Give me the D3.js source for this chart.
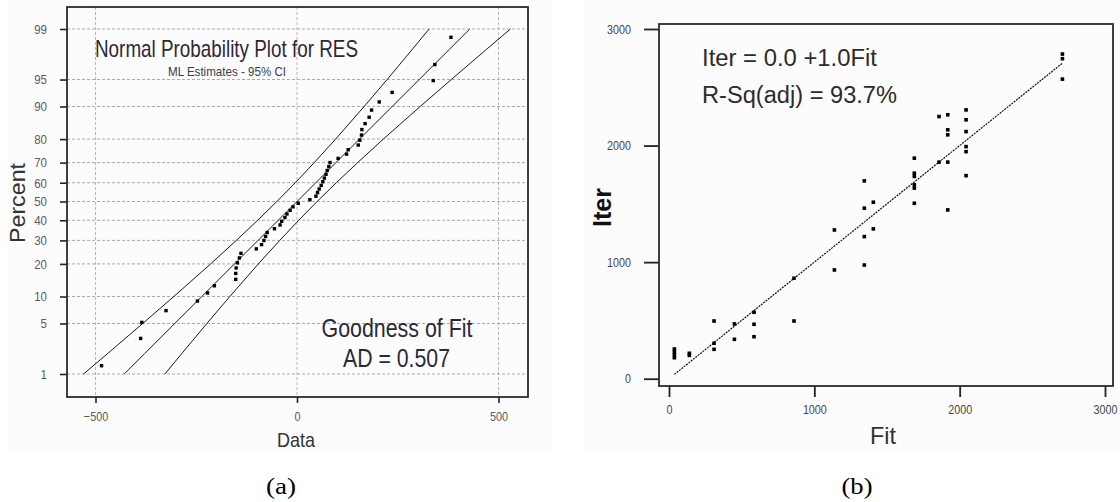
<!DOCTYPE html>
<html>
<head>
<meta charset="utf-8">
<script src="https://cdn.jsdelivr.net/npm/d3@7"></script>
<style>
  html, body { margin: 0; padding: 0; background: #fff; }
  svg { display: block; }
</style>
</head>
<body>
<svg id="fig" width="1120" height="502"></svg>
<script>
// ---------- Panel (a): normal probability plot of residuals ----------
// Sorted residuals and their plotted percent positions
const residuals = [-485, -388, -385, -325, -247, -222, -205, -152, -152, -151,
  -148, -143, -139, -101, -88, -82, -78, -74, -56, -42,
  -38, -30, -25, -17, -10, 3, 32, 47, 51, 55,
  60, 64, 68, 72, 75, 79, 82, 102, 123, 127,
  152, 156, 160, 161, 169, 179, 185, 204, 236, 338,
  342, 382];
const residualPercent = [1.34, 3.24, 5.15, 7.06, 8.97, 10.88, 12.79, 14.69, 16.60, 18.51,
  20.42, 22.33, 24.24, 26.15, 28.05, 29.96, 31.87, 33.78, 35.69, 37.60,
  39.50, 41.41, 43.32, 45.23, 47.14, 49.05, 50.95, 52.86, 54.77, 56.68,
  58.59, 60.50, 62.40, 64.31, 66.22, 68.13, 70.04, 71.95, 73.85, 75.76,
  77.67, 79.58, 81.49, 83.40, 85.31, 87.21, 89.12, 91.03, 92.94, 94.85,
  96.76, 98.66];

// Fitted distribution line and 95% confidence bounds
const bandPercent = [1, 2, 5, 10, 20, 30, 40, 50, 60, 70, 80, 90, 95, 98, 99];
const fitData   = [-428.7, -378.5, -303.2, -236.2, -155.1, -96.6, -46.7, 0, 46.7, 96.6, 155.1, 236.2, 303.2, 378.5, 428.7];
const upperBand = [-529.6, -470.6, -382.8, -305.7, -214.3, -150.4, -97.6, -50, -4.2, 42.8, 95.9, 166.7, 223.6, 286.4, 327.8];
const lowerBand = [-327.8, -286.4, -223.6, -166.7, -95.9, -42.8, 4.2, 50, 97.6, 150.4, 214.3, 305.7, 382.8, 470.6, 529.6];

const percentTicks = [1, 5, 10, 20, 30, 40, 50, 60, 70, 80, 90, 95, 99];
const dataTicks = [-500, 0, 500];

// ---------- Panel (b): observed vs fitted ----------
const fitValues = [37, 37, 37, 37, 140, 140, 310, 310, 310, 450, 450, 585, 585, 585,
  860, 860, 1138, 1138, 1344, 1344, 1344, 1344, 1406, 1406,
  1688, 1688, 1688, 1688, 1688, 1688, 1858, 1858,
  1918, 1918, 1918, 1918, 1918, 2044, 2044, 2044, 2044, 2044, 2044,
  2707, 2707, 2707];
const iterValues = [180, 205, 230, 255, 200, 218, 495, 304, 252, 470, 338, 570, 467, 360,
  862, 495, 933, 1276, 1697, 1463, 1219, 975, 1514, 1285,
  1892, 1763, 1735, 1663, 1635, 1505, 2249, 1858,
  2264, 2135, 2092, 1858, 1448, 2306, 2221, 2120, 1991, 1948, 1742,
  2785, 2745, 2570];
const regFit = [37, 2707];
const regIter = [37, 2707];
const fitTicks = [0, 1000, 2000, 3000];
const iterTicks = [0, 1000, 2000, 3000];

// Inverse standard normal CDF (Acklam's rational approximation)
function probit(p) {
  const a = [-3.969683028665376e+01, 2.209460984245205e+02, -2.759285104469687e+02, 1.383577518672690e+02, -3.066479806614716e+01, 2.506628277459239e+00];
  const b = [-5.447609879822406e+01, 1.615858368580409e+02, -1.556989798598866e+02, 6.680131188771972e+01, -1.328068155288572e+01];
  const c = [-7.784894002430293e-03, -3.223964580411365e-01, -2.400758277161838e+00, -2.549732539343734e+00, 4.374664141464968e+00, 2.938163982698783e+00];
  const d = [7.784695709041462e-03, 3.224671290700398e-01, 2.445134137142996e+00, 3.754408661907416e+00];
  const pl = 0.02425, ph = 1 - pl;
  let q, r;
  if (p < pl) {
    q = Math.sqrt(-2 * Math.log(p));
    return (((((c[0]*q+c[1])*q+c[2])*q+c[3])*q+c[4])*q+c[5]) / ((((d[0]*q+d[1])*q+d[2])*q+d[3])*q+1);
  }
  if (p > ph) {
    q = Math.sqrt(-2 * Math.log(1 - p));
    return -(((((c[0]*q+c[1])*q+c[2])*q+c[3])*q+c[4])*q+c[5]) / ((((d[0]*q+d[1])*q+d[2])*q+d[3])*q+1);
  }
  q = p - 0.5; r = q * q;
  return (((((a[0]*r+a[1])*r+a[2])*r+a[3])*r+a[4])*r+a[5])*q / (((((b[0]*r+b[1])*r+b[2])*r+b[3])*r+b[4])*r+1);
}

const SANS = '"Liberation Sans", Arial, Helvetica, sans-serif';
const SERIF = '"Liberation Serif", "Times New Roman", serif';
const svg = d3.select('#fig');

function txt(g, s, x, y, o) {
  const t = g.append('text').attr('x', x).attr('y', y).text(s)
    .attr('font-family', o.serif ? SERIF : SANS)
    .attr('font-size', o.size)
    .attr('fill', o.fill || '#2a2a2a')
    .attr('text-anchor', o.anchor || 'start');
  if (o.weight) t.attr('font-weight', o.weight);
  if (o.len) t.attr('textLength', o.len).attr('lengthAdjust', 'spacingAndGlyphs');
  if (o.rotate) t.attr('transform', `rotate(-90,${x},${y})`);
  return t;
}
// narrow the glyphs of axis tick labels
function squeeze(sel, k) {
  sel.each(function () {
    const w = this.getComputedTextLength();
    d3.select(this).attr('textLength', w * k).attr('lengthAdjust', 'spacingAndGlyphs');
  });
}

// light image backgrounds behind each panel
svg.append('rect').attr('x', 7).attr('y', 0).attr('width', 545).attr('height', 450).attr('fill', '#fcfcfc');
svg.append('rect').attr('x', 583).attr('y', 0).attr('width', 537).attr('height', 453).attr('fill', '#fcfcfc');

// =================== Panel (a) ===================
{
  const L = 67, T = 7, R = 528, B = 397;
  const g = svg.append('g');
  const x = d3.scaleLinear().domain([-500, 500]).range([95.5, 498.5]);
  const z = d3.scaleLinear().domain([probit(0.01), probit(0.99)]).range([374, 29]);
  const y = p => z(probit(p / 100));

  // dotted grid
  g.append('g').selectAll('line').data(percentTicks).join('line')
    .attr('x1', L).attr('x2', R).attr('y1', d => y(d)).attr('y2', d => y(d))
    .attr('stroke', '#a9a9a9').attr('stroke-width', 1).attr('stroke-dasharray', '3,2');
  g.append('g').selectAll('line').data(dataTicks).join('line')
    .attr('y1', T).attr('y2', B).attr('x1', d => x(d)).attr('x2', d => x(d))
    .attr('stroke', '#b8b8b8').attr('stroke-width', 1).attr('stroke-dasharray', '3,2');

  // axes
  const ya = g.append('g').attr('transform', `translate(${L},0)`)
    .call(d3.axisLeft(z).tickValues(percentTicks.map(p => probit(p / 100)))
      .tickFormat((d, i) => percentTicks[i]).tickSize(7).tickPadding(13));
  const xa = g.append('g').attr('transform', `translate(0,${B})`)
    .call(d3.axisBottom(x).tickValues(dataTicks).tickFormat(d3.format('d')).tickSize(6).tickPadding(8));
  [ya, xa].forEach(a => {
    a.select('.domain').remove();
    a.selectAll('line').attr('stroke', '#222').attr('stroke-width', 1.6);
    a.selectAll('text').attr('font-family', SANS).attr('fill', '#5a5a55');
  });
  ya.selectAll('text').attr('font-size', 13.5);
  xa.selectAll('text').attr('font-size', 13.5);
  squeeze(ya.selectAll('text'), 0.85);
  squeeze(xa.selectAll('text'), 0.8);

  // fitted line and confidence bounds
  const line = d3.line().x(d => x(d[0])).y(d => y(d[1]));
  [upperBand, fitData, lowerBand].forEach(s => {
    g.append('path').datum(s.map((v, i) => [v, bandPercent[i]]))
      .attr('d', line).attr('fill', 'none').attr('stroke', '#1a1a1a').attr('stroke-width', 1);
  });

  // residual points
  g.append('g').selectAll('rect').data(residuals.map((v, i) => [v, residualPercent[i]])).join('rect')
    .attr('x', d => x(d[0]) - 1.7).attr('y', d => y(d[1]) - 1.7)
    .attr('width', 3.4).attr('height', 3.4).attr('fill', '#000');

  // frame
  g.append('rect').attr('x', L).attr('y', T).attr('width', R - L).attr('height', B - T)
    .attr('fill', 'none').attr('stroke', '#2b2b2b').attr('stroke-width', 1.8);

  // texts
  txt(g, 'Normal Probability Plot for RES', 95, 57, { size: 24, len: 263, fill: '#2c2838' });
  txt(g, 'ML Estimates - 95% CI', 227, 76, { size: 13, len: 118, anchor: 'middle', fill: '#3a3a4a' });
  txt(g, 'Goodness of Fit', 397, 337, { size: 25, len: 151, anchor: 'middle', fill: '#2a2a36' });
  txt(g, 'AD = 0.507', 396.5, 366.5, { size: 25, len: 107, anchor: 'middle', fill: '#2a2a36' });
  txt(g, 'Data', 296, 447, { size: 21, len: 38, anchor: 'middle', fill: '#333' });
  txt(g, 'Percent', 25, 203, { size: 22, len: 80, anchor: 'middle', rotate: true, fill: '#333' });
  txt(g, '(a)', 281, 494, { size: 23, serif: true, anchor: 'middle', len: 30, fill: '#000' });
}

// =================== Panel (b) ===================
{
  const L = 659, T = 24, R = 1113, B = 386;
  const g = svg.append('g');
  const x = d3.scaleLinear().domain([0, 3000]).range([669, 1105]);
  const y = d3.scaleLinear().domain([0, 3000]).range([378.7, 29]);

  const ya = g.append('g').attr('transform', `translate(${L},0)`)
    .call(d3.axisLeft(y).tickValues(iterTicks).tickFormat(d3.format('d')).tickSize(15).tickPadding(13));
  const xa = g.append('g').attr('transform', `translate(0,${B})`)
    .call(d3.axisBottom(x).tickValues(fitTicks).tickFormat(d3.format('d')).tickSize(11).tickPadding(8));
  [ya, xa].forEach(a => {
    a.select('.domain').remove();
    a.selectAll('line').attr('stroke', '#222').attr('stroke-width', 1.8);
    a.selectAll('text').attr('font-family', SANS).attr('font-size', 12.5).attr('fill', '#4a4448');
    squeeze(a.selectAll('text'), 0.86);
  });

  // regression line
  const line = d3.line().x(d => x(d[0])).y(d => y(d[1]));
  g.append('path').datum(regFit.map((v, i) => [v, regIter[i]]))
    .attr('d', line).attr('fill', 'none').attr('stroke', '#111')
    .attr('stroke-width', 1.2).attr('stroke-dasharray', '2,1');

  // observations
  g.append('g').selectAll('rect').data(fitValues.map((v, i) => [v, iterValues[i]])).join('rect')
    .attr('x', d => x(d[0]) - 1.8).attr('y', d => y(d[1]) - 1.8)
    .attr('width', 3.6).attr('height', 3.6).attr('fill', '#000');

  // frame
  g.append('rect').attr('x', L).attr('y', T).attr('width', R - L).attr('height', B - T)
    .attr('fill', 'none').attr('stroke', '#2b2b2b').attr('stroke-width', 1.8);

  txt(g, 'Iter = 0.0 +1.0Fit', 702, 66, { size: 23.5, len: 175, fill: '#2e2a2a' });
  txt(g, 'R-Sq(adj) = 93.7%', 702, 103, { size: 23.5, len: 195, fill: '#2e2a2a' });
  txt(g, 'Fit', 883, 444, { size: 24, len: 26, anchor: 'middle', fill: '#333' });
  txt(g, 'Iter', 611, 207.5, { size: 25, weight: 'bold', len: 39, anchor: 'middle', rotate: true, fill: '#111' });
  txt(g, '(b)', 857, 494, { size: 23, serif: true, anchor: 'middle', len: 31, fill: '#000' });
}
</script>
</body>
</html>
